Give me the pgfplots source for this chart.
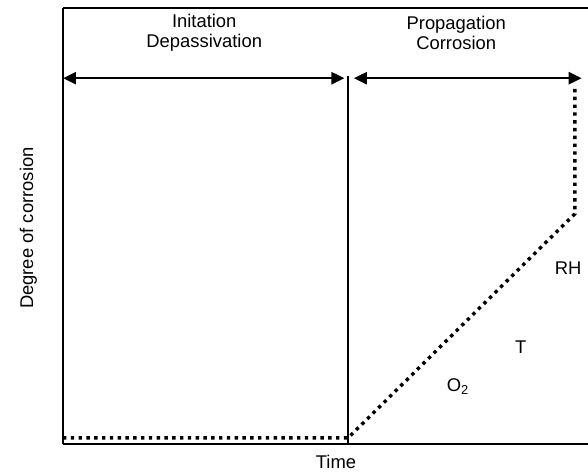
\documentclass[border=0pt]{standalone}
\usepackage{fontspec}
\setmainfont{Liberation Sans}
\usepackage{pgfplots}
\pgfplotsset{compat=1.18}
\usetikzlibrary{arrows.meta}

\begin{document}
\begin{tikzpicture}
\useasboundingbox (-63pt,-28pt) rectangle (525pt,444pt);
\begin{axis}[
    at={(0,0)}, anchor=south west,
    scale only axis, width=525pt, height=436pt,
    xmin=0, xmax=100, ymin=0, ymax=100,
    axis x line*=box, axis y line*=left,
    axis line style={line width=1.8pt, -},
    xtick=\empty, ytick=\empty,
    font=\fontsize{18.4}{20.5}\selectfont,
    xlabel={Time},
    xlabel style={at={(axis description cs:0.52,-0.042)}, anchor=center},
    ylabel={Degree of corrosion},
    ylabel style={at={(axis description cs:-0.066,0.495)}, anchor=center},
    every node/.append style={font=\fontsize{18.4}{20.5}\selectfont},
    clip=false,
]
% phase boundary
\addplot[black, line width=1.6pt] coordinates {(54.3,0) (54.3,84.4)};
% phase arrows
\addplot[black, line width=2.4pt, {Triangle[length=13pt,width=12pt]}-{Triangle[length=13pt,width=12pt]}]
    coordinates {(0,83.9) (53.6,83.9)};
\addplot[black, line width=2.4pt, {Triangle[length=13pt,width=12pt]}-{Triangle[length=13pt,width=12pt]}]
    coordinates {(55.4,83.9) (98.8,83.9)};
% degree of corrosion
\addplot[black, line width=3.4pt, dash pattern=on 3.4pt off 4.4pt]
    coordinates {(0,1.4) (54.3,1.4) (97.5,52.8) (97.5,81.7)};

\node[align=center] at (axis cs:26.9,94.3) {Initation\\Depassivation};
\node[align=center] at (axis cs:74.9,94.3) {Propagation\\Corrosion};
\node at (axis cs:96.2,40.4) {RH};
\node at (axis cs:87.2,22.2) {T};
\node at (axis cs:75.2,13.1) {O\textsubscript{2}};
\end{axis}
\end{tikzpicture}
\end{document}
